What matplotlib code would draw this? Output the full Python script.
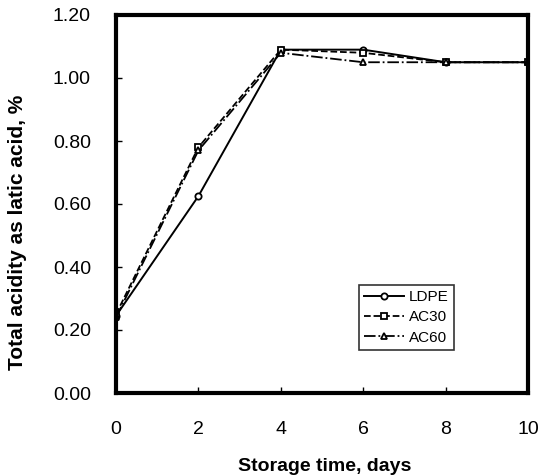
import numpy as np
import matplotlib
matplotlib.use('Agg')
import matplotlib.pyplot as plt

plt.rcParams['font.family'] = ['Liberation Sans', 'DejaVu Sans']

days = [0, 2, 4, 6, 8, 10]
ldpe = [0.245, 0.625, 1.09, 1.09, 1.05, 1.05]
ac30 = [0.25, 0.78, 1.09, 1.08, 1.05, 1.05]
ac60 = [0.24, 0.77, 1.08, 1.05, 1.05, 1.05]
ytick_labels = ['0.00', '0.20', '0.40', '0.60', '0.80', '1.00', '1.20']

fig = plt.figure(figsize=(5.39, 4.76), dpi=100)
ax = fig.add_axes([116/539, 1-393/476, 412/539, 378/476])

ax.plot(days, ldpe, '-', color='black', lw=1.4, marker='o', ms=4.5, mfc='white', mew=1.3, label='LDPE')
ax.plot(days, ac30, '--', color='black', lw=1.3, marker='s', ms=4.5, mfc='white', mew=1.3, label='AC30')
ax.plot(days, ac60, '-.', color='black', lw=1.3, marker='^', ms=4.5, mfc='white', mew=1.3, label='AC60')

ax.set_xlim(0, 10)
ax.set_ylim(0, 1.2)
ax.set_xticks(days)
ax.set_yticks(np.arange(0, 1.21, 0.2))
ax.set_yticklabels(ytick_labels)
ax.tick_params(direction='in', length=4, width=1, labelsize=14)
ax.tick_params(axis='x', pad=20)
ax.tick_params(axis='y', pad=18)
for s in ax.spines.values():
    s.set_linewidth(3)

fig.text(325/539, 1-471/476, 'Storage time, days', fontsize=14, fontweight='bold',
         ha='center', va='baseline')
fig.text(18/539, 1-232/476, 'Total acidity as latic acid, %', fontsize=15, fontweight='bold',
         ha='center', va='center', rotation=90)

leg = ax.legend(loc='lower left', bbox_to_anchor=(0.59, 0.114), borderaxespad=0, fontsize=11,
                frameon=True, fancybox=False, edgecolor='black', handlelength=2.6,
                handletextpad=0.3, borderpad=0.35, labelspacing=0.4)
leg.get_frame().set_linewidth(1.2)

fig.savefig('out.png', dpi=100)
